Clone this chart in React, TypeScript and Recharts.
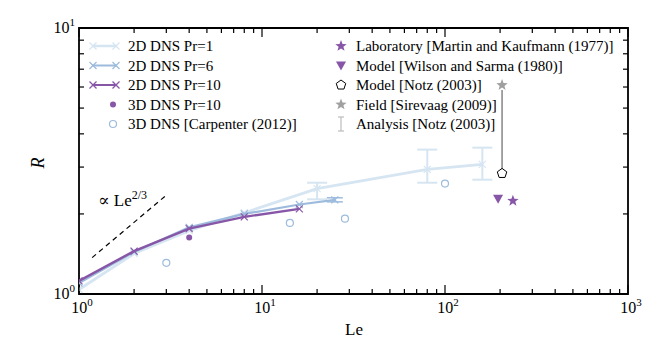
import { ComposedChart, ErrorBar, ReferenceArea, Scatter, XAxis, YAxis } from 'recharts';

// layout
const W = 664;
const H = 360;
const MARGIN = { top: 28, right: 36, bottom: 36, left: 39 };
const Y_AXIS_W = 40;
const X_AXIS_H = 30;
const PLOT_TOP = MARGIN.top;
const PLOT_BOTTOM = H - MARGIN.bottom - X_AXIS_H;
const PLOT_LEFT = MARGIN.left + Y_AXIS_W;
const PLOT_RIGHT = W - MARGIN.right;

const FONT = '"Liberation Serif", "DejaVu Serif", serif';

const LIGHT = '#d6e5f2';
const MID = '#9dbbdc';
const PURPLE = '#8856a7';
const GREY = '#a0a0a0';

// tick values
const X_TICKS = [1, 2, 3, 4, 5, 6, 7, 8, 9, 10, 20, 30, 40, 50, 60, 70, 80, 90, 100, 200, 300, 400, 500, 600, 700, 800, 900, 1000];
const Y_TICKS = [1, 2, 3, 4, 5, 6, 7, 8, 9, 10];

// 2D DNS Pr=1
const LE_PR1 = [1, 2, 4, 8, 20, 80, 160];
const R_PR1 = [1.04, 1.42, 1.73, 2.02, 2.49, 2.94, 3.07];
const ERR_LO_PR1 = [null, null, null, null, 0.22, 0.32, 0.38];
const ERR_HI_PR1 = [null, null, null, null, 0.13, 0.55, 0.48];

// 2D DNS Pr=6
const LE_PR6 = [1, 2, 4, 8, 16, 25];
const R_PR6 = [1.1, 1.44, 1.78, 2.0, 2.17, 2.26];
const ERR_PR6 = [null, null, null, null, null, 0.04];

// 2D DNS Pr=10
const LE_PR10 = [1, 2, 4, 8, 16];
const R_PR10 = [1.12, 1.45, 1.76, 1.95, 2.09];

// 3D DNS Pr=10
const LE_3D = [4];
const R_3D = [1.63];

// 3D DNS Carpenter (2012)
const LE_CARP = [3, 14.2, 28.4, 100];
const R_CARP = [1.31, 1.85, 1.92, 2.6];

// other sources
const LE_LAB = [235];
const R_LAB = [2.24];
const LE_WILSON = [195];
const R_WILSON = [2.28];
const LE_NOTZ = [205];
const R_NOTZ = [2.84];
const LE_FIELD = [205];
const R_FIELD = [6.1];
const LE_ANALYSIS = [205, 205];
const R_ANALYSIS = [2.84, 5.85];

// ∝ Le^(2/3) guide
const LE_SLOPE = [1.18, 2.95];
const R_SLOPE = [1.37, 2.33];

const pts = (xs: number[], ys: number[]) => xs.map((x, i) => ({ x, y: ys[i] }));

const pr1Data = LE_PR1.map((x, i) => ({
  x,
  y: R_PR1[i],
  err: ERR_LO_PR1[i] == null ? null : [ERR_LO_PR1[i], ERR_HI_PR1[i]],
}));
const pr6Data = LE_PR6.map((x, i) => ({ x, y: R_PR6[i], err: ERR_PR6[i] }));

const isMajor = (v: number) => {
  const e = Math.log10(v);
  return Math.abs(e - Math.round(e)) < 1e-6;
};

const XTick = (props: any) => {
  const { x, payload } = props;
  const v = payload.value;
  const len = isMajor(v) ? 9 : 5;
  return (
    <g>
      <line x1={x} x2={x} y1={PLOT_BOTTOM} y2={PLOT_BOTTOM - len} stroke="#000" strokeWidth={1.2} />
      <line x1={x} x2={x} y1={PLOT_TOP} y2={PLOT_TOP + len} stroke="#000" strokeWidth={1.2} />
      {isMajor(v) && (
        <text x={x + 3} y={PLOT_BOTTOM + 19} textAnchor="middle" fontSize={16} fontFamily={FONT} fill="#000">
          10
          <tspan dy={-7} fontSize={11}>
            {Math.round(Math.log10(v))}
          </tspan>
        </text>
      )}
    </g>
  );
};

const YTick = (props: any) => {
  const { y, payload } = props;
  const v = payload.value;
  const len = isMajor(v) ? 9 : 5;
  return (
    <g>
      <line x1={PLOT_LEFT} x2={PLOT_LEFT + len} y1={y} y2={y} stroke="#000" strokeWidth={1.2} />
      <line x1={PLOT_RIGHT} x2={PLOT_RIGHT - len} y1={y} y2={y} stroke="#000" strokeWidth={1.2} />
      {isMajor(v) && (
        <text x={PLOT_LEFT - 4} y={y + 5} textAnchor="end" fontSize={16} fontFamily={FONT} fill="#000">
          10
          <tspan dy={-7} fontSize={11}>
            {Math.round(Math.log10(v))}
          </tspan>
        </text>
      )}
    </g>
  );
};

// marker glyphs
const Cross = ({ cx, cy, color, r = 3.5 }: any) => (
  <g stroke={color} strokeWidth={1.2}>
    <line x1={cx - r} y1={cy - r} x2={cx + r} y2={cy + r} />
    <line x1={cx - r} y1={cy + r} x2={cx + r} y2={cy - r} />
  </g>
);

const starPoints = (cx: number, cy: number, r: number) => {
  const p: string[] = [];
  for (let i = 0; i < 10; i++) {
    const rr = i % 2 === 0 ? r : r * 0.42;
    const a = -Math.PI / 2 + (i * Math.PI) / 5;
    p.push(`${cx + rr * Math.cos(a)},${cy + rr * Math.sin(a)}`);
  }
  return p.join(' ');
};

const pentPoints = (cx: number, cy: number, r: number) => {
  const p: string[] = [];
  for (let i = 0; i < 5; i++) {
    const a = -Math.PI / 2 + (i * 2 * Math.PI) / 5;
    p.push(`${cx + r * Math.cos(a)},${cy + r * Math.sin(a)}`);
  }
  return p.join(' ');
};

const Star = ({ cx, cy, color }: any) => <polygon points={starPoints(cx, cy, 6)} fill={color} />;
const TriDown = ({ cx, cy, color }: any) => (
  <polygon points={`${cx - 5},${cy - 4} ${cx + 5},${cy - 4} ${cx},${cy + 5}`} fill={color} />
);
const Pent = ({ cx, cy }: any) => (
  <polygon points={pentPoints(cx, cy, 5)} fill="#fff" stroke="#000" strokeWidth={1} />
);
const Dot = ({ cx, cy, color }: any) => <circle cx={cx} cy={cy} r={3} fill={color} />;
const Ring = ({ cx, cy, color }: any) => (
  <circle cx={cx} cy={cy} r={3.5} fill="none" stroke={color} strokeWidth={1.2} />
);
const Nothing = () => <g />;

const LEFT_ROWS = [
  { label: '2D DNS Pr=1', kind: 'line', color: LIGHT, w: 2.5 },
  { label: '2D DNS Pr=6', kind: 'line', color: MID, w: 2 },
  { label: '2D DNS Pr=10', kind: 'line', color: PURPLE, w: 2 },
  { label: '3D DNS Pr=10', kind: 'dot', color: PURPLE, w: 0 },
  { label: '3D DNS [Carpenter (2012)]', kind: 'ring', color: MID, w: 0 },
];
const RIGHT_ROWS = [
  { label: 'Laboratory [Martin and Kaufmann (1977)]', kind: 'star', color: PURPLE },
  { label: 'Model [Wilson and Sarma (1980)]', kind: 'tri', color: PURPLE },
  { label: 'Model [Notz (2003)]', kind: 'pent', color: '#000' },
  { label: 'Field [Sirevaag (2009)]', kind: 'star', color: GREY },
  { label: 'Analysis [Notz (2003)]', kind: 'bar', color: '#bdbdbd' },
];
const ROW_Y = [46, 65.5, 85, 104.5, 124];
const LEGEND_FS = 15;

function Overlay() {
  return (
    <svg
      width={W}
      height={H}
      style={{ position: 'absolute', left: 0, top: 0, pointerEvents: 'none' }}
      fontFamily={FONT}
    >
      {LEFT_ROWS.map((r, i) => {
        const y = ROW_Y[i];
        return (
          <g key={r.label}>
            {r.kind === 'line' && (
              <g>
                <line x1={92} x2={117} y1={y} y2={y} stroke={r.color} strokeWidth={r.w} />
                <Cross cx={93} cy={y} color={r.color} />
                <Cross cx={116} cy={y} color={r.color} />
              </g>
            )}
            {r.kind === 'dot' && <Dot cx={113} cy={y} color={r.color} />}
            {r.kind === 'ring' && <Ring cx={113} cy={y} color={r.color} />}
            <text x={128} y={y + 5} fontSize={LEGEND_FS} fontFamily={FONT} fill="#000">
              {r.label}
            </text>
          </g>
        );
      })}
      {RIGHT_ROWS.map((r, i) => {
        const y = ROW_Y[i];
        return (
          <g key={r.label}>
            {r.kind === 'star' && <Star cx={341} cy={y} color={r.color} />}
            {r.kind === 'tri' && <TriDown cx={341} cy={y} color={r.color} />}
            {r.kind === 'pent' && <Pent cx={341} cy={y} />}
            {r.kind === 'bar' && (
              <g stroke={r.color} strokeWidth={1.2}>
                <line x1={341} x2={341} y1={y - 7} y2={y + 7} />
                <line x1={338} x2={344} y1={y - 7} y2={y - 7} />
                <line x1={338} x2={344} y1={y + 7} y2={y + 7} />
              </g>
            )}
            <text x={356} y={y + 5} fontSize={LEGEND_FS} fontFamily={FONT} fill="#000">
              {r.label}
            </text>
          </g>
        );
      })}
      <text x={98} y={206} fontSize={17} fontFamily={FONT} fill="#000">
        ∝ Le
        <tspan dy={-7} fontSize={12}>
          2/3
        </tspan>
      </text>
      <text x={354} y={335} textAnchor="middle" fontSize={17} fontFamily={FONT} fill="#000">
        Le
      </text>
      <text
        x={38}
        y={163}
        textAnchor="middle"
        fontSize={18}
        fontStyle="italic"
        fontFamily={FONT}
        fill="#000"
        transform="rotate(-90 38 163)"
        dy={6}
      >
        R
      </text>
    </svg>
  );
}

export default function App() {
  return (
    <div style={{ position: 'absolute', left: 0, top: 0, width: W, height: H, background: '#fff', fontFamily: FONT }}>
      <ComposedChart width={W} height={H} margin={MARGIN}>
        <XAxis
          type="number"
          dataKey="x"
          scale="log"
          domain={[1, 1000]}
          ticks={X_TICKS}
          allowDataOverflow
          height={X_AXIS_H}
          tickSize={0}
          tickMargin={0}
          tickLine={false}
          axisLine={false}
          interval={0}
          tick={<XTick />}
        />
        <YAxis
          type="number"
          dataKey="y"
          scale="log"
          domain={[1, 10]}
          ticks={Y_TICKS}
          allowDataOverflow
          width={Y_AXIS_W}
          tickSize={0}
          tickMargin={0}
          tickLine={false}
          axisLine={false}
          interval={0}
          tick={<YTick />}
        />
        <Scatter
          data={pts(LE_SLOPE, R_SLOPE)}
          line={{ stroke: '#000', strokeWidth: 1.2, strokeDasharray: '5 4' }}
          shape={<Nothing />}
          isAnimationActive={false}
        />
        <Scatter
          data={pr1Data}
          line={{ stroke: LIGHT, strokeWidth: 2.8 }}
          shape={(p: any) => <Cross cx={p.cx} cy={p.cy} color={LIGHT} />}
          isAnimationActive={false}
        >
          <ErrorBar dataKey="err" direction="y" width={10} stroke={LIGHT} strokeWidth={2} isAnimationActive={false} />
        </Scatter>
        <Scatter
          data={pr6Data}
          line={{ stroke: MID, strokeWidth: 2.2 }}
          shape={(p: any) => <Cross cx={p.cx} cy={p.cy} color={MID} />}
          isAnimationActive={false}
        >
          <ErrorBar dataKey="err" direction="y" width={8} stroke={MID} strokeWidth={1.5} isAnimationActive={false} />
        </Scatter>
        <Scatter
          data={pts(LE_PR10, R_PR10)}
          line={{ stroke: PURPLE, strokeWidth: 2.4 }}
          shape={(p: any) => <Cross cx={p.cx} cy={p.cy} color={PURPLE} />}
          isAnimationActive={false}
        />
        <Scatter
          data={pts(LE_3D, R_3D)}
          shape={(p: any) => <Dot cx={p.cx} cy={p.cy} color={PURPLE} />}
          isAnimationActive={false}
        />
        <Scatter
          data={pts(LE_CARP, R_CARP)}
          shape={(p: any) => <Ring cx={p.cx} cy={p.cy} color={MID} />}
          isAnimationActive={false}
        />
        <Scatter
          data={pts(LE_ANALYSIS, R_ANALYSIS)}
          line={{ stroke: '#666', strokeWidth: 1.2 }}
          shape={<Nothing />}
          isAnimationActive={false}
        />
        <Scatter
          data={pts(LE_LAB, R_LAB)}
          shape={(p: any) => <Star cx={p.cx} cy={p.cy} color={PURPLE} />}
          isAnimationActive={false}
        />
        <Scatter
          data={pts(LE_WILSON, R_WILSON)}
          shape={(p: any) => <TriDown cx={p.cx} cy={p.cy} color={PURPLE} />}
          isAnimationActive={false}
        />
        <Scatter
          data={pts(LE_NOTZ, R_NOTZ)}
          shape={(p: any) => <Pent cx={p.cx} cy={p.cy} />}
          isAnimationActive={false}
        />
        <Scatter
          data={pts(LE_FIELD, R_FIELD)}
          shape={(p: any) => <Star cx={p.cx} cy={p.cy} color={GREY} />}
          isAnimationActive={false}
        />
        <ReferenceArea
          x1={1}
          x2={1000}
          y1={1}
          y2={10}
          fill="none"
          fillOpacity={0}
          stroke="#000"
          strokeWidth={1.8}
          ifOverflow="visible"
        />
      </ComposedChart>
      <Overlay />
    </div>
  );
}
